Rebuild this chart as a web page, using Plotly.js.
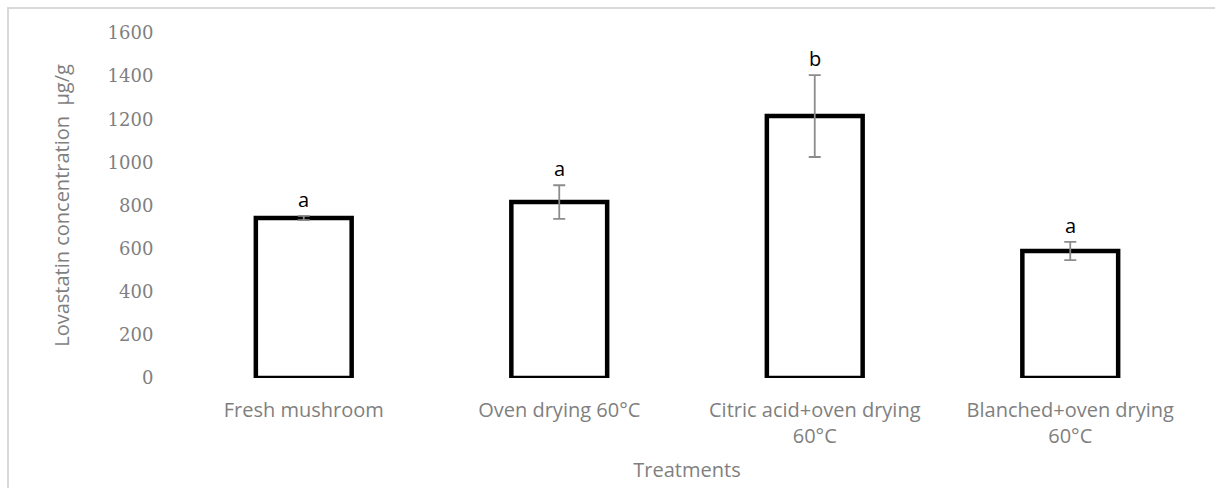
<!DOCTYPE html>
<html>
<head>
<meta charset="utf-8">
<script src="https://cdn.plot.ly/plotly-3.0.1.min.js"></script>
<style>
  html, body { margin: 0; padding: 0; background: #fff; }
  #wrap { position: relative; width: 1215px; height: 488px; overflow: hidden; }
  #chart { width: 1215px; height: 488px; }
  #frame { position: absolute; left: 7px; top: 7px; width: 1400px; height: 700px;
           border: 2px solid #d9d9d9; pointer-events: none; box-sizing: border-box; }
</style>
</head>
<body>
<div id="wrap">
  <div id="chart"></div>
  <div id="frame"></div>
</div>
<script>
// ---- data ----
const categories = ["Fresh mushroom", "Oven drying 60°C", "Citric acid+oven drying 60°C", "Blanched+oven drying 60°C"];
const tickLabels = ["Fresh mushroom", "Oven drying 60°C", "Citric acid+oven drying<br>60°C", "Blanched+oven drying<br>60°C"];
const lovastatin = [742, 816, 1215, 589];
const stdDev = [10, 78, 190, 42];
const letters = ["a", "a", "b", "a"];
const yTicks = [0, 200, 400, 600, 800, 1000, 1200, 1400, 1600];

const grey = "#7f7f7f";

const trace = {
  type: "bar",
  x: categories,
  y: lovastatin,
  width: 0.375,
  marker: { color: "#ffffff", line: { color: "#000000", width: 4.5 } },
  error_y: { type: "data", array: stdDev, visible: true, color: "#8c8c8c", thickness: 1.8, width: 6 },
  hoverinfo: "x+y"
};

const annotations = categories.map((c, i) => ({
  x: c, y: lovastatin[i] + stdDev[i], xref: "x", yref: "y",
  text: letters[i], showarrow: false, yanchor: "bottom", yshift: 1,
  font: { family: "Open Sans, sans-serif", size: 20, color: "#000000" }
}));

const layout = {
  width: 1215, height: 488,
  margin: { l: 176, r: 17, t: 33, b: 110 },
  paper_bgcolor: "#ffffff", plot_bgcolor: "#ffffff",
  showlegend: false,
  xaxis: {
    type: "category",
    tickmode: "array", tickvals: categories, ticktext: tickLabels,
    showgrid: false, zeroline: false, showline: false,
    ticks: "outside", ticklen: 14, tickcolor: "rgba(0,0,0,0)",
    tickfont: { family: "Open Sans, sans-serif", size: 20, color: grey },
    title: { text: "Treatments", font: { family: "Open Sans, sans-serif", size: 20, color: grey }, standoff: 14 }
  },
  yaxis: {
    range: [0, 1600],
    tickmode: "array", tickvals: yTicks, ticktext: yTicks.map(String),
    showgrid: false, zeroline: false, showline: false,
    ticks: "outside", ticklen: 18, tickcolor: "rgba(0,0,0,0)",
    tickfont: { family: "DejaVu Serif, serif", size: 18, color: grey },
    title: { text: "Lovastatin concentration  μg/g", font: { family: "Open Sans, sans-serif", size: 20, color: grey }, standoff: 32 }
  },
  annotations: annotations
};

Plotly.newPlot("chart", [trace], layout, { displayModeBar: false, staticPlot: true });
</script>
</body>
</html>
